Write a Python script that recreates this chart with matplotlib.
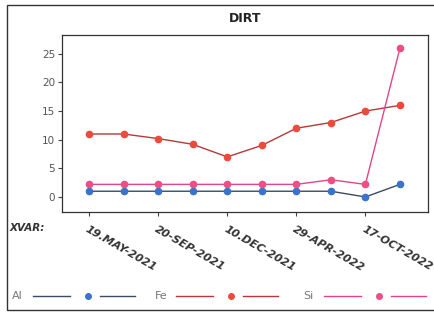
import matplotlib
matplotlib.use("Agg")
import matplotlib.pyplot as plt
from matplotlib.lines import Line2D
from matplotlib.patches import Rectangle

# data
x_idx = list(range(10))
tick_pos = [0, 2, 4, 6, 8]
tick_labels = ["19.MAY-2021", "20-SEP-2021", "10.DEC-2021", "29-APR-2022", "17-OCT-2022"]
al = [1, 1, 1, 1, 1, 1, 1, 1, 0, 2.2]
fe = [11, 11, 10.2, 9.2, 7, 9, 12, 13, 15, 16]
si = [2.2, 2.2, 2.2, 2.2, 2.2, 2.2, 2.2, 3, 2.2, 26]

series = [
    ("Al", al, "#3b4a66", "#3a72d0"),
    ("Fe", fe, "#b83838", "#ee4a3c"),
    ("Si", si, "#e0458c", "#ec4f82"),
]

fig = plt.figure(figsize=(4.34, 3.12), dpi=100)
ax = fig.add_axes([0.143, 0.321, 0.843, 0.567])

for name, vals, lc, mc in series:
    ax.plot(x_idx, vals, color=lc, lw=1.0, marker="o", ms=4.5,
            markerfacecolor=mc, markeredgecolor=mc, zorder=3)

ax.set_xlim(-0.78, 9.81)
ax.set_ylim(-2.6, 28.3)
ax.set_yticks([0, 5, 10, 15, 20, 25])
ax.set_yticklabels(["0", "5", "10", "15", "20", "25"], color="#555555", fontsize=7.5)
ax.set_xticks(tick_pos)
ax.set_xticklabels(tick_labels, rotation=-30, ha="left", va="top",
                   rotation_mode="anchor", fontsize=8,
                   fontweight="bold", fontstyle="italic", color="#333333")
ax.tick_params(axis="both", direction="out", length=3, width=0.8, color="#444444", pad=2)
ax.tick_params(axis="x", pad=6)
for s in ax.spines.values():
    s.set_color("#333333")
    s.set_linewidth(0.9)

ax.set_title("DIRT", fontsize=9, fontweight="bold", color="#222222", pad=9)

fig.text(10 / 434, 1 - 228 / 312, "XVAR:", fontsize=7.5, fontweight="bold",
         fontstyle="italic", color="#333333", va="center")

# outer frame
fig.patches.append(Rectangle((7 / 434, 2 / 312), 0.99, 1 - 7 / 312, transform=fig.transFigure,
                             fill=False, edgecolor="#333333", lw=1.0))

# legend row
leg_y = 1 - 296 / 312
starts = [12, 155, 303]
for (name, vals, lc, mc), sx in zip(series, starts):
    fig.text(sx / 434, leg_y, name, fontsize=8, color="#777777", va="center")
    l1 = (sx + 21, sx + 58)
    mk = sx + 76
    l2 = (sx + 88, sx + 123)
    fig.lines.append(Line2D([l1[0] / 434, l1[1] / 434], [leg_y, leg_y], color=lc, lw=1.0,
                            transform=fig.transFigure))
    fig.lines.append(Line2D([mk / 434], [leg_y], marker="o", ms=4, color=mc,
                            transform=fig.transFigure))
    fig.lines.append(Line2D([l2[0] / 434, l2[1] / 434], [leg_y, leg_y], color=lc, lw=1.0,
                            transform=fig.transFigure))

fig.savefig("out.png", dpi=100)
plt.close(fig)
